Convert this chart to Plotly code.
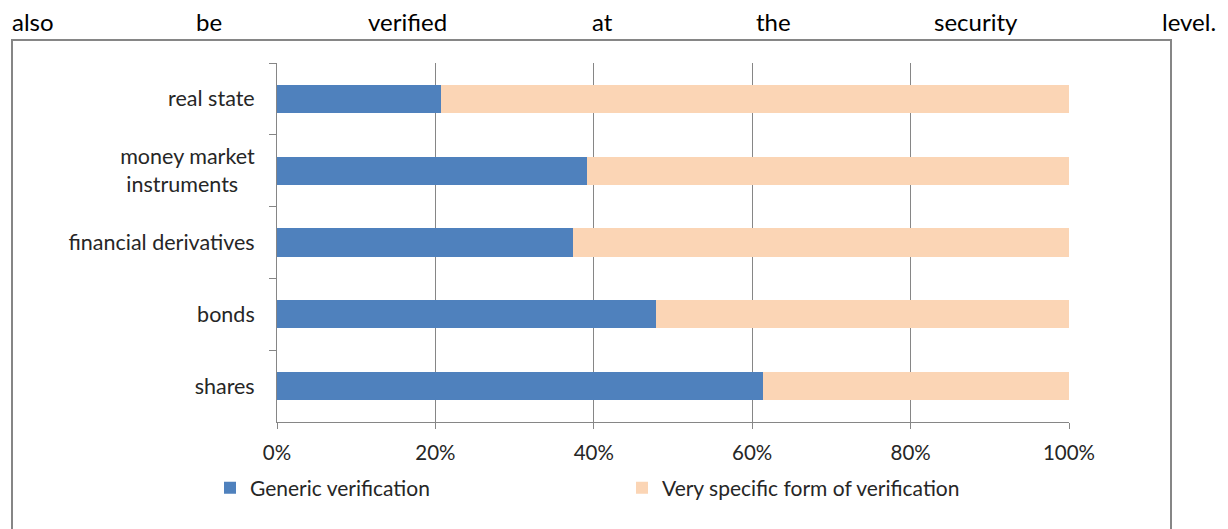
import plotly.graph_objects as go

# Asset categories, listed from top to bottom of the chart
categories = ["real state", "money market<br>instruments\u00a0\u00a0\u00a0", "financial derivatives", "bonds", "shares"]

# Share of respondents per category (percent)
generic = [20.7, 39.1, 37.4, 47.9, 61.4]
specific = [79.3, 60.9, 62.6, 52.1, 38.6]

series_names = ["Generic verification", "Very specific form of verification"]
series_colors = ["#4F81BD", "#FBD5B5"]

x_ticks = [0, 20, 40, 60, 80, 100]
x_tick_labels = ["0%", "20%", "40%", "60%", "80%", "100%"]

# Sentence fragment running above the chart (justified line)
caption_words = ["also", "be", "verified", "at", "the", "security", "level."]

W, H = 1228, 529
L, R, T, B = 277, 159, 63, 107
PW, PH = W - L - R, H - T - B


def px_x(px):
    return (px - L) / PW


def px_y(py):
    return (H - B - py) / PH


FONT = "Lato, Carlito, Calibri, sans-serif"
GRAY = "#868686"
TEXT = "#262626"

fig = go.Figure()
for name, vals, col in zip(series_names, [generic, specific], series_colors):
    fig.add_trace(go.Bar(
        y=categories, x=vals, name=name, orientation="h",
        marker=dict(color=col, line=dict(width=0)),
        hoverinfo="x+y+name",
    ))

# Justified caption words: pixel anchor and alignment for each word
word_pos = [(10, "left"), (209, "center"), (407, "center"), (602, "center"),
            (773, "center"), (976, "center"), (1218, "right")]
annotations = []
for word, (xp, anchor) in zip(caption_words, word_pos):
    annotations.append(dict(
        text=word, x=px_x(xp), y=px_y(22), xref="paper", yref="paper",
        xanchor=anchor, yanchor="middle", showarrow=False,
        font=dict(family=FONT, size=24, color="#000000"),
    ))

fig.update_layout(
    width=W, height=H,
    margin=dict(l=L, r=R, t=T, b=B, pad=0),
    paper_bgcolor="white", plot_bgcolor="white",
    barmode="stack", bargap=0.606,
    font=dict(family=FONT, size=20, color=TEXT),
    showlegend=True,
    legend=dict(
        orientation="h", x=px_x(210), y=px_y(488), xanchor="left", yanchor="middle",
        font=dict(family=FONT, size=21, color=TEXT),
        entrywidth=367, entrywidthmode="pixels", traceorder="normal",
        bgcolor="rgba(0,0,0,0)", itemclick=False, itemdoubleclick=False,
    ),
    xaxis=dict(
        range=[0, 100], tickvals=x_ticks, ticktext=x_tick_labels,
        showgrid=True, gridcolor=GRAY, gridwidth=1, zeroline=False,
        showline=True, linecolor=GRAY, linewidth=1,
        ticks="outside", ticklen=6, tickcolor=GRAY, tickwidth=1,
        ticklabelstandoff=6,
        tickfont=dict(family=FONT, size=20.5, color=TEXT),
        fixedrange=True,
    ),
    yaxis=dict(
        autorange="reversed", type="category",
        showgrid=False, zeroline=False,
        showline=True, linecolor=GRAY, linewidth=1,
        ticks="outside", tickson="boundaries", ticklen=7, tickcolor=GRAY, tickwidth=1,
        ticklabelstandoff=17,
        tickfont=dict(family=FONT, size=21.5, color=TEXT),
        fixedrange=True,
    ),
    annotations=annotations,
    shapes=[dict(
        type="rect", xref="paper", yref="paper",
        x0=px_x(12), x1=px_x(1171), y0=px_y(540), y1=px_y(40),
        line=dict(color=GRAY, width=2), fillcolor="rgba(0,0,0,0)", layer="below",
    )],
)

fig.write_html("out.html")
